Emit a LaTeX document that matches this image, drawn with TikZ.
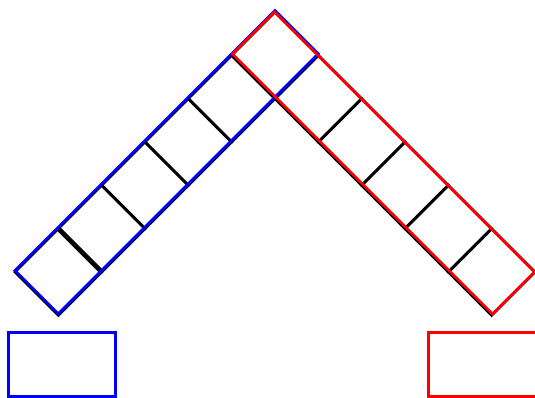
\documentclass[tikz,border=0pt]{standalone}
\usepackage{tikz}
\usepackage{xcolor}
\definecolor{armblue}{RGB}{0,0,255}
\definecolor{armred}{RGB}{255,0,0}

\begin{document}
\begin{tikzpicture}[x=1pt,y=-1pt,line width=2.8pt]
  \useasboundingbox (0,0) rectangle (535,398);
  \clip (0,0) rectangle (535,398);
  % top square
  \draw (275,12) -- (231.67,55.33) -- (275,98.67) -- (318.33,55.33) -- cycle;
  % left arm
  \draw (231.67,55.33) -- (188.33,98.67) -- (231.67,142) -- (275,98.67) -- cycle;
  \draw (188.33,98.67) -- (145,142) -- (188.33,185.33) -- (231.67,142) -- cycle;
  \draw (145,142) -- (101.67,185.33) -- (145,228.67) -- (188.33,185.33) -- cycle;
  \draw (101.67,185.33) -- (58.33,228.67) -- (101.67,272) -- (145,228.67) -- cycle;
  \draw (58.33,228.67) -- (15,272) -- (58.33,315.33) -- (101.67,272) -- cycle;
  \draw[line width=4.8pt] (58.33,228.67) -- (101.67,272);
  % right arm
  \draw (318.33,55.33) -- (361.67,98.67) -- (318.33,142) -- (275,98.67) -- cycle;
  \draw (361.67,98.67) -- (405,142) -- (361.67,185.33) -- (318.33,142) -- cycle;
  \draw (405,142) -- (448.33,185.33) -- (405,228.67) -- (361.67,185.33) -- cycle;
  \draw (448.33,185.33) -- (491.67,228.67) -- (448.33,272) -- (405,228.67) -- cycle;
  \draw (491.67,228.67) -- (535,272) -- (491.67,315.33) -- (448.33,272) -- cycle;
  % enclosing strips
  \draw[armblue,shift={(0,-1.5)}] (275,12) -- (15,272) -- (58.33,315.33) -- (318.33,55.33) -- cycle;
  \draw[armred,shift={(-0.5,0)}] (275,12) -- (535,272) -- (493,314) -- (233,54) -- cycle;
  % boxes below
  \draw[armblue] (8.5,332.5) rectangle (115.5,396.5);
  \draw[armred] (428.5,332.5) rectangle (537,396.5);
\end{tikzpicture}
\end{document}
